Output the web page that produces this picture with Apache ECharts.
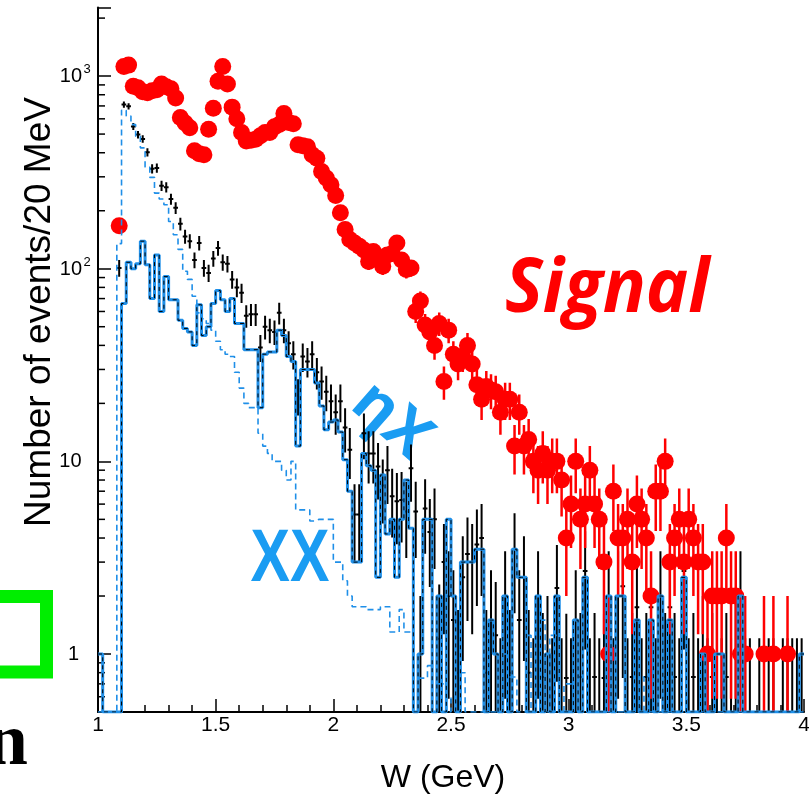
<!DOCTYPE html>
<html>
<head>
<meta charset="utf-8">
<script src="https://cdn.jsdelivr.net/npm/echarts@6/dist/echarts.min.js"></script>
<style>
  html, body { margin: 0; padding: 0; background: #fff; }
  #chart { width: 809px; height: 803px; }
</style>
</head>
<body>
<div id="chart"></div>
<script>
// W spectrum, 20 MeV bins from 1.00 to 4.00 GeV (150 bins, index = bin number)
const X_MIN = 1.0;
const X_MAX = 4.0;
const BIN = 0.02;
const Y_MIN = 0.5;
const Y_MAX = 2270;

const xTickLabels = ['1', '1.5', '2', '2.5', '3', '3.5', '4'];
// decade labels on the log axis: mantissa text and optional exponent
const yDecades = [1, 10, 100, 1000];
const yDecadeBase = ['1', '10', '10', '10'];
const yDecadeExp = ['', '', '2', '3'];

// Signal MC (red points)
const signal = [
  null, null, null, null, 167, 1120, 1140, 885, 870, 830,
  820, 840, 850, 910, 880, 860, 770, 610, 570, 540,
  410, 395, 390, 530, 680, 940, 1120, 910, 690, 600,
  510, 460, 465, 470, 490, 510, 510, 545, 560, 640,
  575, 565, 440, 435, 430, 390, 375, 320, 296, 273,
  240, 195, 160, 142, 136, 131, 125, 109, 123, 115,
  103, 118, 120, 136, 111, 99, 101, 60, 68, 51,
  47, 40, 52, 26, 48, 36, 32, 35, 40, 32,
  25, 21, 24.5, 23.5, 23, 18, 21, 21, 12, 18,
  12, 13, 10, 9, 11, 9, 10, 10, 8, 4,
  6, 10, 5, 6, 9, 6, 5, 3, 1, 7,
  4, 4, 5, 3, 6, 5, 4, 2, 7, 7,
  10, 3, 4, 5, 3, 5, 4, 3, 3, 1,
  2, 2, 2, 4, 2, 2, 1, 1, null, null,
  null, 1, null, 1, null, null, 1, null, null, null
];

// Data (black crosses)
const data = [
  null, null, null, null, 101, 711, 697, 548, 497, 472,
  402, 330, 333, 270, 265, 230, 207, 171, 147, 139,
  111, 136, 101, 95, 113, 128, 108, 106, 88, 80,
  75, 57, 58, 58, 39, 50, 48, 47, 59, 48,
  41, 36, 22, 35, 33, 36, 29, 26, 23, 20.5,
  18, 20.5, 15, 11.5, 5.3, 5.3, 14, 11, 11, 9.4,
  7.5, 9, 6.6, 6.2, 6.3, 5.5, 9.2, 5.5, 1, 5.7,
  4.3, 5, 1.2, 3, 2, 1.5, 0.8, 2.5, 3.3, 3,
  3.7, 4, 0.8, 1.5, 1.25, 0.5, 2, 0.8, 3.5, 1.5,
  2.5, 0.8, 0.5, 2, 0.76, 1, 0.5, 2.2, 0.5, 0.75,
  0.5, 1.5, 0.76, 2.7, 0.5, 0.76, 0.5, 0.75, 2, 0.5,
  2, 2.25, 0.5, 0.76, 1.75, 0.5, 0.76, 1.75, 0.5, 2,
  0.76, 1.75, 0.76, 0.5, 2.7, 0.5, 0.76, 0.5, 1, 0.5,
  0.76, 1, 0.5, 0.76, 0.5, 1, 2, 0.5, 0.5, null,
  0.5, 0.5, 0.5, 0.5, null, 0.5, 0.5, 0.5, 0.5, 0.5
];

// eta X background (solid blue histogram)
const etaX = [
  1, 0, 0, 0, 0, 66, 108, 100, 106, 139,
  105, 70, 118, 60, 91, 69, 69, 54, 49, 47,
  40, 65, 45, 50, 66, 77, 69, 60, 70, 52,
  52, 38, 38, 38, 19, 36, 37, 37, 48, 45,
  35, 33, 12, 30, 30, 30, 25.5, 19.4, 14.6, 16,
  16.4, 14.2, 10.2, 7, 3, 3, 11, 9.5, 9, 2.5,
  8.5, 4.2, 5, 2.5, 5, 8, 4.5, 0, 1, 5,
  5, 0, 2, 0, 5, 2, 0, 3, 3, 3,
  3.5, 3.5, 0, 1.5, 1, 0, 2, 0, 3.5, 2.5,
  2.5, 0, 0, 2, 0, 1, 0, 2, 0, 0,
  0, 1.5, 0, 2.5, 0, 0, 0, 0, 2, 0,
  2, 2, 0, 0, 1.5, 0, 0, 1.5, 0, 2,
  0, 1.5, 0, 0, 2.5, 0, 0, 0, 1, 0,
  0, 1, 1, 0, 0, 0, 2, 0, 0, 0,
  0, 0, 0, 0, 0, 0, 0, 0, 0, 1
];

// X X background (dashed blue histogram)
const xx = [
  0, 0, 0, 0, 135, 665, 620, 560, 487, 424,
  337, 298, 247, 230, 215, 176, 150, 126, 97, 88,
  72, 59, 55, 52, 48, 42, 38, 36, 35, 29,
  24, 20, 19, 19, 14, 12, 11, 10, 10, 9,
  8, 10, 5.6, 5.6, 5.6, 4.9, 5, 5, 5, 5,
  3, 3, 2.4, 2, 1.76, 1.76, 1.76, 1.7, 1.7, 1.7,
  1.76, 1.76, 1.3, 1.3, 1.7, 1.3, 1.3, 0.75, 0.75, 0.75,
  0.87, 0.87, 0.7, 0.7, 0, 0.6, 0, 0.8, 0, 0,
  0, 0, 0, 0, 0, 1, 1, 0.76, 0.76, 0,
  0, 1.25, 0, 0, 1.5, 0, 1.25, 1.25, 0, 0.7,
  0.7, 0, 0, 0, 0, 0, 0, 0, 0, 0,
  0, 0, 0, 0, 0, 0.76, 0, 0, 0, 0,
  0, 0, 0, 0, 0, 0, 0, 0, 0, 0,
  0, 0, 0, 0, 0, 0, 0, 0, 0, 0,
  0, 0, 0, 0, 0, 0, 0, 0, 0, 0
];

const BLUE = '#1f8fe8';
const LABEL_BLUE = '#1a9cf2';
const FONT = '"Liberation Sans", Arial, sans-serif';

const binCenter = i => X_MIN + BIN * (i + 0.5);
const binEdge = i => X_MIN + BIN * i;

// Step outline through the bin edges; empty bins sit on the axis floor
function stepData(vals) {
  const pts = vals.map((v, i) => [binEdge(i), Math.max(v, Y_MIN)]);
  pts.push([binEdge(vals.length), Math.max(vals[vals.length - 1], Y_MIN)]);
  return pts;
}

function pointData(vals) {
  const out = [];
  vals.forEach((v, i) => { if (v != null) out.push([binCenter(i), v]); });
  return out;
}

function errorBar(color, width, withCap) {
  return function (params, api) {
    const x = api.value(0);
    const v = api.value(1);
    const e = Math.sqrt(v);
    const lo = Math.max(v - e, Y_MIN);
    const hi = Math.min(v + e, Y_MAX);
    const a = api.coord([x, lo]);
    const b = api.coord([x, hi]);
    const children = [{
      type: 'line',
      shape: { x1: a[0], y1: a[1], x2: b[0], y2: b[1] },
      style: { stroke: color, lineWidth: width }
    }];
    if (withCap && v > Y_MIN) {
      const l = api.coord([x - BIN / 2, v]);
      const r = api.coord([x + BIN / 2, v]);
      children.push({
        type: 'line',
        shape: { x1: l[0], y1: l[1], x2: r[0], y2: r[1] },
        style: { stroke: color, lineWidth: width }
      });
    }
    return { type: 'group', children };
  };
}

function textEl(x, y, text, font, align) {
  return {
    type: 'text', x: x, y: y,
    style: { text: text, font: font, fill: '#000',
             align: align, verticalAlign: 'middle', textAlign: align, textVerticalAlign: 'middle' }
  };
}

// log minor ticks (2..9 per decade) drawn on the left axis
const yMinorTicks = [];
[0.1, 1, 10, 100, 1000].forEach(d => {
  for (let m = 2; m <= 9; m++) {
    const v = m * d;
    if (v > Y_MIN && v < Y_MAX) yMinorTicks.push(v);
  }
});

const chart = echarts.init(document.getElementById('chart'), null, { renderer: 'canvas' });

chart.setOption({
  animation: false,
  backgroundColor: '#fff',
  grid: { left: 98, right: 5, top: 7.5, bottom: 91, outerBoundsMode: 'none' },
  xAxis: {
    type: 'value',
    min: X_MIN,
    max: X_MAX,
    interval: 0.5,
    axisLine: { show: true, onZero: false, lineStyle: { color: '#000', width: 2 } },
    axisTick: { show: true, inside: true, length: 13, lineStyle: { color: '#000', width: 1.5 } },
    minorTick: { show: true, splitNumber: 5, length: 7, lineStyle: { color: '#000', width: 1.5 } },
    splitLine: { show: false },
    minorSplitLine: { show: false },
    axisLabel: {
      color: '#000', fontSize: 21, fontFamily: FONT, margin: 3,
      formatter: v => xTickLabels[Math.round((v - X_MIN) / 0.5)]
    }
  },
  yAxis: {
    type: 'log',
    logBase: 10,
    min: Y_MIN,
    max: Y_MAX,
    axisLine: { show: true, onZero: false, lineStyle: { color: '#000', width: 2 } },
    axisTick: { show: true, inside: true, length: 13, lineStyle: { color: '#000', width: 1.5 } },
    splitLine: { show: false },
    axisLabel: { show: false }
  },
  series: [
    {
      name: 'yMinor', type: 'custom', clip: false, silent: true,
      data: yMinorTicks.map(v => [X_MIN, v]),
      renderItem: (params, api) => {
        const p = api.coord([api.value(0), api.value(1)]);
        return { type: 'line', shape: { x1: p[0], y1: p[1], x2: p[0] + 7, y2: p[1] },
                 style: { stroke: '#000', lineWidth: 1.5 } };
      }
    },
    {
      // decade labels placed through the log scale
      name: 'yLabels', type: 'custom', clip: false, silent: true,
      data: yDecades.map((v, i) => [X_MIN, v, i]),
      renderItem: (params, api) => {
        const i = api.value(2);
        const p = api.coord([api.value(0), api.value(1)]);
        const base = yDecadeBase[i];
        const exp = yDecadeExp[i];
        if (exp) {
          return { type: 'group', children: [
            textEl(p[0] - 16, p[1] + 0.5, base, '20px ' + FONT, 'right'),
            textEl(p[0] - 14.5, p[1] - 6.5, exp, '13px ' + FONT, 'left')
          ] };
        }
        const gap = base === '1' ? 19 : 16.5;
        return textEl(p[0] - gap, p[1] + 0.5, base, '20px ' + FONT, 'right');
      }
    },
    {
      name: 'XX', type: 'line', step: 'end', showSymbol: false, clip: true,
      data: stepData(xx),
      lineStyle: { color: BLUE, width: 1.6, type: [6, 4] }
    },
    {
      name: 'etaX', type: 'line', step: 'end', showSymbol: false, clip: true,
      data: stepData(etaX),
      lineStyle: { color: BLUE, width: 3 }
    },
    {
      name: 'etaX outline', type: 'line', step: 'end', showSymbol: false, clip: true,
      data: stepData(etaX),
      lineStyle: { color: '#000', width: 1, type: [4, 4] }
    },
    {
      name: 'Data', type: 'custom', clip: true,
      data: pointData(data),
      renderItem: errorBar('#000', 2, true)
    },
    {
      name: 'Signal errors', type: 'custom', clip: true,
      data: pointData(signal),
      renderItem: errorBar('#ff0000', 2.5, false)
    },
    {
      name: 'Signal', type: 'scatter', clip: true,
      data: pointData(signal),
      symbol: 'circle', symbolSize: 17,
      itemStyle: { color: '#ff0000', opacity: 1 }
    }
  ],
  graphic: [
    {
      type: 'text', x: 40, y: 312, rotation: Math.PI / 2,
      style: { text: 'Number of events/20 MeV', font: '37px ' + FONT, fill: '#000',
               align: 'center', verticalAlign: 'middle', textAlign: 'center', textVerticalAlign: 'middle' }
    },
    {
      type: 'text', x: 443, y: 778,
      style: { text: 'W (GeV)', font: '32px ' + FONT, fill: '#000',
               align: 'center', verticalAlign: 'middle', textAlign: 'center', textVerticalAlign: 'middle' }
    },
    {
      type: 'text', x: 505, y: 290, scaleX: 0.94,
      style: { text: 'Signal', font: 'italic bold 76px "Open Sans", sans-serif', fill: '#ff0000',
               align: 'left', verticalAlign: 'middle', textAlign: 'left', textVerticalAlign: 'middle' }
    },
    {
      type: 'text', x: 391, y: 421, rotation: -0.72,
      style: { text: 'ηX', font: 'bold 62px "Open Sans", sans-serif', fill: LABEL_BLUE,
               align: 'center', verticalAlign: 'middle', textAlign: 'center', textVerticalAlign: 'middle' }
    },
    {
      type: 'text', x: 290, y: 561, scaleX: 0.8,
      style: { text: 'XX', font: 'bold 74px ' + FONT, fill: LABEL_BLUE,
               align: 'center', verticalAlign: 'middle', textAlign: 'center', textVerticalAlign: 'middle' }
    },
    {
      type: 'polyline',
      shape: { points: [[-10, 596.5], [46.5, 596.5], [46.5, 672], [-10, 672]] },
      style: { stroke: '#00ee00', lineWidth: 13, fill: null, lineJoin: 'miter' }
    },
    {
      type: 'text', x: 28, y: 745,
      style: { text: 'n', font: 'bold 74px "Liberation Serif", serif', fill: '#000',
               align: 'right', verticalAlign: 'middle', textAlign: 'right', textVerticalAlign: 'middle' }
    }
  ]
});
</script>
</body>
</html>
